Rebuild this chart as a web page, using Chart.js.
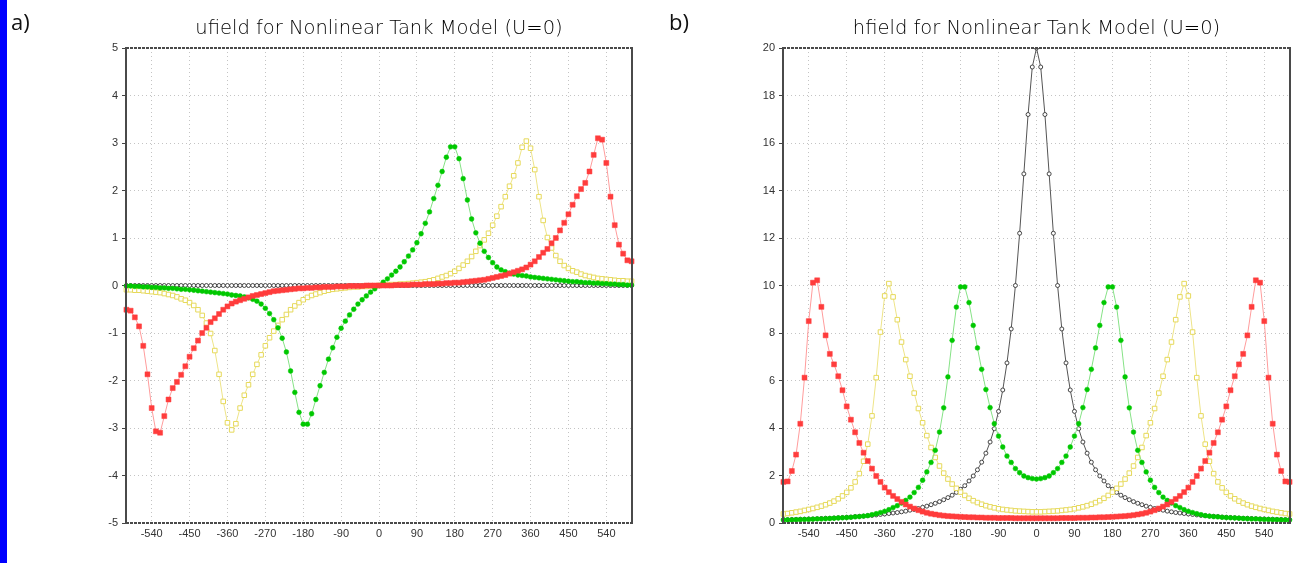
<!DOCTYPE html>
<html>
<head>
<meta charset="utf-8">
<script src="https://cdn.jsdelivr.net/npm/chart.js@4.4.0/dist/chart.umd.min.js"></script>
<style>
  html, body { margin: 0; padding: 0; background: #fff; }
  body { width: 1301px; height: 563px; position: relative; overflow: hidden; font-family: "Liberation Sans", Arial, sans-serif; }
  #bar { position: absolute; left: 0; top: 0; width: 7px; height: 563px; background: #0000ff; }
  .lbl { position: absolute; font-size: 22px; color: #111; font-family: "Open Sans", "Liberation Sans", sans-serif; }
  #wrapA { position: absolute; left: 0; top: 0; width: 650px; height: 563px; }
  #wrapB { position: absolute; left: 650px; top: 0; width: 651px; height: 563px; }
</style>
</head>
<body>
<div id="bar"></div>
<div id="wrapA"><canvas id="chartA" width="650" height="563"></canvas></div>
<div id="wrapB"><canvas id="chartB" width="651" height="563"></canvas></div>
<div class="lbl" style="left:11px;top:6px">a)</div>
<div class="lbl" style="left:669px;top:6px">b)</div>

<script>
// --- data ---
const xValues = [
  -600,-590,-580,-570,-560,-550,-540,-530,-520,-510,
  -500,-490,-480,-470,-460,-450,-440,-430,-420,-410,
  -400,-390,-380,-370,-360,-350,-340,-330,-320,-310,
  -300,-290,-280,-270,-260,-250,-240,-230,-220,-210,
  -200,-190,-180,-170,-160,-150,-140,-130,-120,-110,
  -100,-90,-80,-70,-60,-50,-40,-30,-20,-10,
  0,
  10,20,30,40,50,60,70,80,90,100,
  110,120,130,140,150,160,170,180,190,200,
  210,220,230,240,250,260,270,280,290,300,
  310,320,330,340,350,360,370,380,390,400,
  410,420,430,440,450,460,470,480,490,500,
  510,520,530,540,550,560,570,580,590,600
];

const xTicks = [-540, -450, -360, -270, -180, -90, 0, 90, 180, 270, 360, 450, 540];
const uTicks = [-5, -4, -3, -2, -1, 0, 1, 2, 3, 4, 5];
const hTicks = [0, 2, 4, 6, 8, 10, 12, 14, 16, 18, 20];

// ufield
const uBlack = [
  0,0,0,0,0,0,0,0,0,0,
  0,0,0,0,0,0,0,0,0,0,
  0,0,0,0,0,0,0,0,0,0,
  0,0,0,0,0,0,0,0,0,0,
  0,0,0,0,0,0,0,0,0,0,
  0,0,0,0,0,0,0,0,0,0,
  0,
  0,0,0,0,0,0,0,0,0,0,
  0,0,0,0,0,0,0,0,0,0,
  0,0,0,0,0,0,0,0,0,0,
  0,0,0,0,0,0,0,0,0,0,
  0,0,0,0,0,0,0,0,0,0,
  0,0,0,0,0,0,0,0,0,0
];
const uGreen = [
  -0.01,-0.01,-0.02,-0.02,-0.03,-0.03,-0.04,-0.04,-0.05,-0.05,
  -0.06,-0.06,-0.07,-0.08,-0.08,-0.09,-0.10,-0.11,-0.12,-0.13,
  -0.14,-0.15,-0.16,-0.17,-0.18,-0.20,-0.21,-0.22,-0.24,-0.26,
  -0.29,-0.33,-0.39,-0.48,-0.59,-0.72,-0.89,-1.11,-1.40,-1.80,
  -2.25,-2.67,-2.92,-2.92,-2.70,-2.40,-2.11,-1.83,-1.55,-1.31,
  -1.09,-0.90,-0.75,-0.62,-0.50,-0.39,-0.30,-0.22,-0.14,-0.07,
  0,
  0.07,0.14,0.22,0.30,0.39,0.50,0.62,0.75,0.90,1.09,
  1.31,1.55,1.83,2.11,2.40,2.70,2.92,2.92,2.67,2.25,
  1.80,1.40,1.11,0.89,0.72,0.59,0.48,0.39,0.33,0.29,
  0.26,0.24,0.22,0.21,0.20,0.18,0.17,0.16,0.15,0.14,
  0.13,0.12,0.11,0.10,0.09,0.08,0.08,0.07,0.06,0.06,
  0.05,0.05,0.04,0.04,0.03,0.03,0.02,0.02,0.01,0.01
];
const uYellow = [
  -0.09,-0.09,-0.10,-0.10,-0.11,-0.12,-0.13,-0.14,-0.15,-0.17,
  -0.19,-0.21,-0.24,-0.28,-0.31,-0.36,-0.42,-0.51,-0.63,-0.79,
  -1.01,-1.37,-1.87,-2.44,-2.89,-3.04,-2.91,-2.58,-2.31,-2.09,
  -1.87,-1.66,-1.46,-1.27,-1.10,-0.96,-0.84,-0.72,-0.61,-0.51,
  -0.43,-0.36,-0.30,-0.25,-0.21,-0.18,-0.15,-0.12,-0.10,-0.08,
  -0.07,-0.06,-0.05,-0.04,-0.03,-0.03,-0.02,-0.02,-0.01,-0.01,
  0,
  0.01,0.01,0.02,0.02,0.03,0.03,0.04,0.05,0.06,0.07,
  0.08,0.10,0.12,0.15,0.18,0.21,0.25,0.30,0.36,0.43,
  0.51,0.61,0.72,0.84,0.96,1.10,1.27,1.46,1.66,1.87,
  2.09,2.31,2.58,2.91,3.04,2.89,2.44,1.87,1.37,1.01,
  0.79,0.63,0.51,0.42,0.36,0.31,0.28,0.24,0.21,0.19,
  0.17,0.15,0.14,0.13,0.12,0.11,0.10,0.10,0.09,0.09
];
const uRed = [
  -0.51,-0.53,-0.67,-0.86,-1.27,-1.87,-2.58,-3.07,-3.10,-2.75,
  -2.40,-2.16,-2.03,-1.88,-1.70,-1.50,-1.32,-1.16,-1.00,-0.89,
  -0.77,-0.69,-0.60,-0.51,-0.44,-0.38,-0.34,-0.31,-0.28,-0.25,
  -0.22,-0.20,-0.18,-0.16,-0.14,-0.12,-0.11,-0.10,-0.09,-0.08,
  -0.07,-0.06,-0.06,-0.05,-0.05,-0.04,-0.04,-0.03,-0.03,-0.03,
  -0.02,-0.02,-0.02,-0.01,-0.01,-0.01,-0.01,0,0,0,
  0,
  0,0,0,0.01,0.01,0.01,0.01,0.02,0.02,0.02,
  0.03,0.03,0.03,0.04,0.04,0.05,0.05,0.06,0.06,0.07,
  0.08,0.09,0.10,0.11,0.12,0.14,0.16,0.18,0.20,0.22,
  0.25,0.28,0.31,0.34,0.38,0.44,0.51,0.60,0.69,0.77,
  0.89,1.00,1.16,1.32,1.50,1.70,1.88,2.03,2.16,2.40,
  2.75,3.10,3.07,2.58,1.87,1.27,0.86,0.67,0.53,0.51
];

// hfield
const hBlack = [
  0.14,0.14,0.15,0.15,0.16,0.16,0.17,0.17,0.18,0.19,
  0.20,0.20,0.21,0.22,0.23,0.24,0.25,0.27,0.28,0.29,
  0.31,0.32,0.34,0.36,0.38,0.40,0.42,0.44,0.47,0.50,
  0.54,0.57,0.61,0.66,0.71,0.77,0.83,0.90,0.98,1.07,
  1.17,1.29,1.42,1.57,1.77,1.98,2.24,2.56,2.94,3.41,
  3.97,4.70,5.60,6.74,8.17,10.0,12.2,14.7,17.2,19.2,
  20.0,
  19.2,17.2,14.7,12.2,10.0,8.17,6.74,5.60,4.70,3.97,
  3.41,2.94,2.56,2.24,1.98,1.77,1.57,1.42,1.29,1.17,
  1.07,0.98,0.90,0.83,0.77,0.71,0.66,0.61,0.57,0.54,
  0.50,0.47,0.44,0.42,0.40,0.38,0.36,0.34,0.32,0.31,
  0.29,0.28,0.27,0.25,0.24,0.23,0.22,0.21,0.20,0.20,
  0.19,0.18,0.17,0.17,0.16,0.16,0.15,0.15,0.14,0.14
];
const hGreen = [
  0.13,0.13,0.13,0.14,0.14,0.15,0.15,0.16,0.17,0.17,
  0.18,0.19,0.20,0.21,0.22,0.23,0.24,0.26,0.27,0.29,
  0.31,0.35,0.39,0.44,0.49,0.56,0.65,0.73,0.84,0.95,
  1.09,1.28,1.50,1.80,2.15,2.55,3.06,3.83,4.85,6.15,
  7.69,9.09,9.94,9.94,9.28,8.32,7.37,6.47,5.62,4.86,
  4.18,3.66,3.20,2.82,2.55,2.29,2.12,1.98,1.91,1.87,
  1.85,
  1.87,1.91,1.98,2.12,2.29,2.55,2.82,3.20,3.66,4.18,
  4.86,5.62,6.47,7.37,8.32,9.28,9.94,9.94,9.09,7.69,
  6.15,4.85,3.83,3.06,2.55,2.15,1.80,1.50,1.28,1.09,
  0.95,0.84,0.73,0.65,0.56,0.49,0.44,0.39,0.35,0.31,
  0.29,0.27,0.26,0.24,0.23,0.22,0.21,0.20,0.19,0.18,
  0.17,0.17,0.16,0.15,0.15,0.14,0.14,0.13,0.13,0.13
];
const hYellow = [
  0.38,0.40,0.43,0.46,0.49,0.53,0.57,0.61,0.66,0.71,
  0.77,0.84,0.92,1.02,1.14,1.29,1.48,1.73,2.08,2.60,
  3.32,4.51,6.12,8.04,9.56,10.08,9.52,8.56,7.62,6.88,
  6.18,5.47,4.82,4.22,3.68,3.18,2.76,2.40,2.10,1.85,
  1.64,1.46,1.30,1.16,1.04,0.94,0.86,0.79,0.73,0.68,
  0.64,0.60,0.57,0.55,0.53,0.51,0.50,0.49,0.48,0.47,
  0.47,
  0.47,0.48,0.49,0.50,0.51,0.53,0.55,0.57,0.60,0.64,
  0.68,0.73,0.79,0.86,0.94,1.04,1.16,1.30,1.46,1.64,
  1.85,2.10,2.40,2.76,3.18,3.68,4.22,4.82,5.47,6.18,
  6.88,7.62,8.56,9.52,10.08,9.56,8.04,6.12,4.51,3.32,
  2.60,2.08,1.73,1.48,1.29,1.14,1.02,0.92,0.84,0.77,
  0.71,0.66,0.61,0.57,0.53,0.49,0.46,0.43,0.40,0.38
];
const hRed = [
  1.73,1.75,2.19,2.88,4.18,6.12,8.50,10.12,10.22,9.10,
  7.90,7.12,6.68,6.18,5.59,4.91,4.35,3.82,3.37,2.96,
  2.61,2.29,1.98,1.73,1.49,1.30,1.14,1.01,0.89,0.78,
  0.69,0.61,0.54,0.48,0.43,0.39,0.36,0.33,0.31,0.29,
  0.28,0.27,0.26,0.25,0.24,0.24,0.23,0.23,0.22,0.22,
  0.22,0.21,0.21,0.21,0.21,0.20,0.20,0.20,0.20,0.20,
  0.20,
  0.20,0.20,0.20,0.20,0.20,0.21,0.21,0.21,0.21,0.22,
  0.22,0.22,0.23,0.23,0.24,0.24,0.25,0.26,0.27,0.28,
  0.29,0.31,0.33,0.36,0.39,0.43,0.48,0.54,0.61,0.69,
  0.78,0.89,1.01,1.14,1.30,1.49,1.73,1.98,2.29,2.61,
  2.96,3.37,3.82,4.35,4.91,5.59,6.18,6.68,7.12,7.90,
  9.10,10.22,10.12,8.50,6.12,4.18,2.88,2.19,1.75,1.73
];

// --- helpers ---
const toPoints = ys => xValues.map((x, i) => ({ x: x, y: ys[i] }));

// frame around the plot area (GrADS style)
const frame = {
  id: 'frame',
  afterDatasetsDraw(chart) {
    const { ctx, chartArea: a } = chart;
    ctx.save();
    ctx.strokeStyle = '#4a4a4a';
    ctx.lineWidth = 2;
    ctx.beginPath();
    ctx.moveTo(a.left, a.top - 1); ctx.lineTo(a.left, a.bottom + 1);
    ctx.moveTo(a.right, a.top - 1); ctx.lineTo(a.right, a.bottom + 1);
    ctx.stroke();
    ctx.setLineDash([3, 1]);
    ctx.beginPath();
    ctx.moveTo(a.left, a.top); ctx.lineTo(a.right, a.top);
    ctx.moveTo(a.left, a.bottom); ctx.lineTo(a.right, a.bottom);
    ctx.stroke();
    ctx.restore();
  }
};

function makeSets(black, yellow, green, red) {
  const common = { showLine: true, tension: 0, borderWidth: 1, clip: { left: 6, right: 6, top: 0, bottom: 6 } };
  return [
    Object.assign({}, common, {
      label: 'red', data: toPoints(red), borderColor: '#ff9c9c',
      pointStyle: 'rect', pointRadius: 3.5, pointBackgroundColor: '#ff3c3c',
      pointBorderColor: '#ff3c3c', pointBorderWidth: 0.5
    }),
    Object.assign({}, common, {
      label: 'green', data: toPoints(green), borderColor: '#86e286',
      pointStyle: 'circle', pointRadius: 2.4, pointBackgroundColor: '#00c800',
      pointBorderColor: '#00c800', pointBorderWidth: 0.5
    }),
    Object.assign({}, common, {
      label: 'yellow', data: toPoints(yellow), borderColor: '#eee488',
      pointStyle: 'rect', pointRadius: 3.2, pointBackgroundColor: '#ffffff',
      pointBorderColor: '#e6d95a', pointBorderWidth: 1
    }),
    Object.assign({}, common, {
      label: 'black', data: toPoints(black), borderColor: '#555555',
      pointStyle: 'circle', pointRadius: 2, pointBackgroundColor: '#ffffff',
      pointBorderColor: '#333333', pointBorderWidth: 0.9
    })
  ];
}

function makeOptions(title, yMin, yMax, yTicks, yWidth, rightPad) {
  const tickFont = { family: '"Liberation Sans", Arial, sans-serif', size: 11 };
  return {
    responsive: false,
    animation: false,
    events: [],
    layout: { padding: { left: 0, right: rightPad, top: 17, bottom: 0 } },
    plugins: {
      legend: { display: false },
      tooltip: { enabled: false },
      title: {
        display: true, text: title, color: '#000', fullSize: false,
        font: { family: '"DejaVu Sans", "Liberation Sans", sans-serif', size: 19.5, weight: 200 },
        padding: { top: 0, bottom: 7.6 }
      }
    },
    scales: {
      x: {
        type: 'linear', min: -601, max: 601,
        afterBuildTicks: s => { s.ticks = xTicks.map(v => ({ value: v })); },
        afterFit: s => { s.height = 40; },
        border: { display: false, dash: [1, 3] },
        grid: { color: '#c4c4c4', lineWidth: 1, drawTicks: false },
        ticks: { color: '#333', font: tickFont, padding: 4, maxRotation: 0, autoSkip: false }
      },
      y: {
        type: 'linear', min: yMin, max: yMax,
        afterBuildTicks: s => { s.ticks = yTicks.map(v => ({ value: v })); },
        afterFit: s => { s.width = yWidth; },
        border: { display: false, dash: [1, 3] },
        grid: { color: '#c4c4c4', lineWidth: 1, tickLength: 4, tickColor: '#444', tickBorderDash: [] },
        ticks: { color: '#333', font: tickFont, padding: 4, autoSkip: false }
      }
    }
  };
}

new Chart(document.getElementById('chartA'), {
  type: 'scatter',
  data: { datasets: makeSets(uBlack, uYellow, uGreen, uRed) },
  options: makeOptions('ufield for Nonlinear Tank Model (U=0)', -5, 5, uTicks, 126, 18),
  plugins: [frame]
});

new Chart(document.getElementById('chartB'), {
  type: 'scatter',
  data: { datasets: makeSets(hBlack, hYellow, hGreen, hRed) },
  options: makeOptions('hfield for Nonlinear Tank Model (U=0)', 0, 20, hTicks, 133, 11),
  plugins: [frame]
});
</script>
</body>
</html>
